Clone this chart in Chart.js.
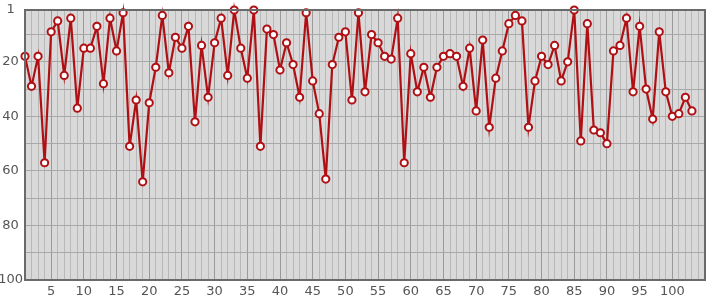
<!DOCTYPE html>
<html>
<head>
<meta charset="utf-8">
<script src="https://cdn.jsdelivr.net/npm/chart.js@4/dist/chart.umd.min.js"></script>
<style>
  html, body { margin: 0; padding: 0; background: #fff; }
  #wrap { width: 715px; height: 300px; }
</style>
</head>
<body>
<div id="wrap"><canvas id="rank-chart"></canvas></div>
<script>
// Rank per step (1 = best, shown at top)
const ranks = [
  18, 29, 18, 57, 9, 5, 25, 4, 37, 15,
  15, 7, 28, 4, 16, 2, 51, 34, 64, 35,
  22, 3, 24, 11, 15, 7, 42, 14, 33, 13,
  4, 25, 1, 15, 26, 1, 51, 8, 10, 23,
  13, 21, 33, 2, 27, 39, 63, 21, 11, 9,
  34, 2, 31, 10, 13, 18, 19, 4, 57, 17,
  31, 22, 33, 22, 18, 17, 18, 29, 15, 38,
  12, 44, 26, 16, 6, 3, 5, 44, 27, 18,
  21, 14, 27, 20, 1, 49, 6, 45, 46, 50,
  16, 14, 4, 31, 7, 30, 41, 9, 31, 40,
  39, 33, 38
];
const steps = ranks.map((r, i) => i + 1);

const xTickLabels = [5, 10, 15, 20, 25, 30, 35, 40, 45, 50, 55, 60, 65, 70, 75, 80, 85, 90, 95, 100];
const yTickLabels = [1, 20, 40, 60, 80, 100];
const yGridValues = [1, 10, 20, 30, 40, 50, 60, 70, 80, 90, 100];

// Grey plot background and dark frame
const frame = {
  id: 'frame',
  beforeDraw(chart) {
    const { ctx, chartArea: a } = chart;
    ctx.save();
    ctx.fillStyle = '#d9d9d9';
    ctx.fillRect(a.left, a.top, a.right - a.left, a.bottom - a.top);
    ctx.restore();
  },
  afterDatasetsDraw(chart) {
    const { ctx, chartArea: a } = chart;
    ctx.save();
    ctx.strokeStyle = '#6a6a6a';
    ctx.lineWidth = 2;
    ctx.strokeRect(a.left, a.top, a.right - a.left, a.bottom - a.top);
    ctx.restore();
  }
};

const ctx = document.getElementById('rank-chart').getContext('2d');
const rankChart = new Chart(ctx, {
  type: 'line',
  data: {
    datasets: [{
      data: steps.map((s, i) => ({ x: s, y: ranks[i] })),
      borderColor: '#b01014',
      borderWidth: 2.2,
      pointRadius: 3.6,
      pointBorderWidth: 2,
      pointBackgroundColor: '#ffffff',
      pointBorderColor: '#b01014',
      tension: 0,
      clip: false
    }]
  },
  options: {
    responsive: true,
    maintainAspectRatio: false,
    animation: false,
    layout: { padding: { top: 10, right: 10, left: 0, bottom: 0 } },
    plugins: { legend: { display: false }, tooltip: { enabled: false } },
    scales: {
      x: {
        type: 'linear',
        min: 1,
        max: 105,
        afterFit(scale) { scale.height = 20; },
        border: { display: false },
        grid: {
          drawTicks: false,
          lineWidth: 1,
          color: (c) => (c.tick && c.tick.value % 5 === 0) ? '#9a9a9a' : '#b8b8b8'
        },
        ticks: {
          stepSize: 1,
          autoSkip: false,
          maxRotation: 0,
          padding: 4,
          color: '#555',
          font: { family: 'DejaVu Sans', size: 13 },
          callback: (v) => xTickLabels.includes(v) ? String(v) : ''
        }
      },
      y: {
        reverse: true,
        min: 1,
        max: 100,
        afterFit(scale) { scale.width = 25; },
        afterBuildTicks(scale) { scale.ticks = yGridValues.map(v => ({ value: v })); },
        border: { display: false },
        grid: { drawTicks: false, color: '#a8a8a8', lineWidth: 1 },
        ticks: {
          padding: 2,
          crossAlign: 'center',
          color: '#555',
          font: { family: 'DejaVu Sans', size: 13 },
          callback: (v) => yTickLabels.includes(v) ? String(v) : ''
        }
      }
    }
  },
  plugins: [frame]
});
</script>
</body>
</html>
